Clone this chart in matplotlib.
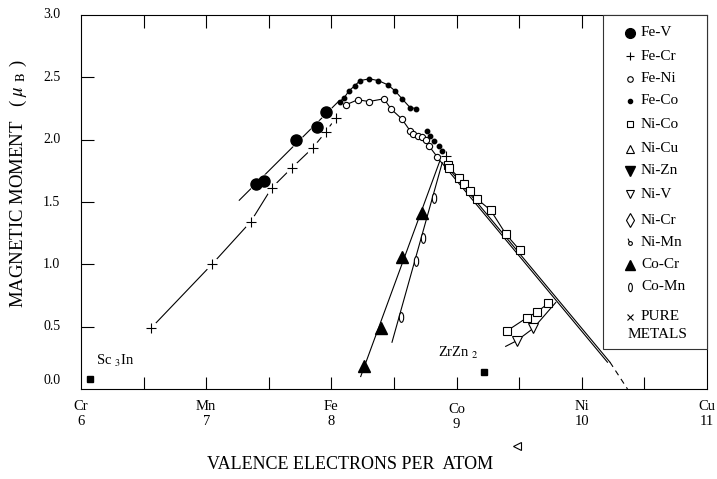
import matplotlib
matplotlib.use("Agg")
import matplotlib.pyplot as plt
import numpy as np
from matplotlib.path import Path
from matplotlib.patches import Rectangle

plt.rcParams['font.family'] = ['Liberation Serif', 'DejaVu Serif']
plt.rcParams['mathtext.fontset'] = 'stix'

# ---- data ----
fe_v_x = [7.394, 7.458, 7.717, 7.885, 7.955]
fe_v_y = [1.644, 1.668, 1.994, 2.098, 2.218]
fe_v_fit_x = [7.264, 8.06]
fe_v_fit_y = [1.514, 2.31]

fe_cr_x = [6.559, 7.046, 7.355, 7.523, 7.683, 7.850, 7.954, 8.034]
fe_cr_y = [0.488, 1.0, 1.341, 1.613, 1.773, 1.933, 2.061, 2.173]
fe_cr_extra_x = [8.915]
fe_cr_extra_y = [1.867]

fe_co_x = [8.069, 8.103, 8.141, 8.188, 8.229, 8.303, 8.375, 8.450, 8.508, 8.566, 8.628, 8.673]
fe_co_y = [2.306, 2.338, 2.392, 2.434, 2.474, 2.488, 2.474, 2.44, 2.392, 2.326, 2.258, 2.25]
fe_co2_x = [8.761, 8.788, 8.822, 8.859, 8.881]
fe_co2_y = [2.072, 2.032, 1.986, 1.946, 1.906]

fe_ni_x = [8.117, 8.210, 8.300, 8.420, 8.476, 8.561, 8.628, 8.654, 8.689, 8.721, 8.753, 8.782, 8.846]
fe_ni_y = [2.28, 2.32, 2.306, 2.328, 2.246, 2.168, 2.072, 2.048, 2.032, 2.022, 1.994, 1.946, 1.861]

ni_co_x = [8.934, 8.942, 9.019, 9.062, 9.107, 9.161, 9.272, 9.395, 9.506]
ni_co_y = [1.80, 1.774, 1.694, 1.648, 1.586, 1.526, 1.434, 1.24, 1.112]
ni_co_low_x = [9.405, 9.562, 9.645, 9.732]
ni_co_low_y = [0.468, 0.572, 0.62, 0.687]

ni_v_x = [9.48, 9.613]
ni_v_y = [0.387, 0.487]
ni_v_line_x = [9.392, 9.48, 9.613, 9.792]
ni_v_line_y = [0.342, 0.387, 0.487, 0.694]

co_cr_x = [8.260, 8.394, 8.566, 8.721]
co_cr_y = [0.184, 0.49, 1.06, 1.41]
co_cr_fit_x = [8.234, 8.867]
co_cr_fit_y = [0.10, 1.832]

co_mn_x = [8.553, 8.673, 8.728, 8.82]
co_mn_y = [0.58, 1.03, 1.21, 1.53]
co_mn_fit_x = [8.484, 8.89]
co_mn_fit_y = [0.375, 1.832]

main1_x = [8.867, 10.205]
main1_y = [1.832, 0.215]
main2_x = [8.885, 10.225]
main2_y = [1.832, 0.215]
main_ext_x = [10.225, 10.365]
main_ext_y = [0.215, 0.0]

sc3in_x, sc3in_y = [6.07], [0.08]
zrzn2_x, zrzn2_y = [9.219], [0.137]
stray_x, stray_y = [9.483], [-0.46]

elements = ["Cr", "Mn", "Fe", "Co", "Ni", "Cu"]
electrons = [6, 7, 8, 9, 10, 11]
ytick_vals = [0.0, 0.5, 1.0, 1.5, 2.0, 2.5, 3.0]

legend_names = ["Fe-V", "Fe-Cr", "Fe-Ni", "Fe-Co", "Ni-Co", "Ni-Cu", "Ni-Zn",
                "Ni-V", "Ni-Cr", "Ni-Mn", "Co-Cr", "Co-Mn", "PURE"]

# custom markers
circ = Path.unit_circle()
ellipse = Path(circ.vertices * [0.45, 1.0], circ.codes)
tail = Path([(-0.6, 0.8), (-1.3, 2.6)], [Path.MOVETO, Path.LINETO])
ni_mn_marker = Path.make_compound_path(circ, tail)

fig = plt.figure(figsize=(7.17, 4.79), dpi=100)
ax = fig.add_axes([81 / 717, 1 - 389 / 479, 626 / 717, 374 / 479])
ax.set_xlim(6, 11)
ax.set_ylim(0, 3)

lw = 0.8
k = "black"

# lines
ax.plot(fe_v_fit_x, fe_v_fit_y, color=k, lw=lw, zorder=2)
ax.plot(fe_cr_x, fe_cr_y, color=k, lw=lw, zorder=2)
ax.plot(fe_co_x, fe_co_y, color=k, lw=lw, zorder=2)
ax.plot(fe_ni_x, fe_ni_y, color=k, lw=lw, zorder=2)
ax.plot(ni_co_x, ni_co_y, color=k, lw=lw, zorder=2)
ax.plot(ni_co_low_x, ni_co_low_y, color=k, lw=lw, zorder=2)
ax.plot(ni_v_line_x, ni_v_line_y, color=k, lw=lw, zorder=2)
ax.plot(co_cr_fit_x, co_cr_fit_y, color=k, lw=lw, zorder=2)
ax.plot(co_mn_fit_x, co_mn_fit_y, color=k, lw=lw, zorder=2)
ax.plot(main1_x, main1_y, color=k, lw=lw, zorder=2)
ax.plot(main2_x, main2_y, color=k, lw=lw, zorder=2)
ax.plot(main_ext_x, main_ext_y, color=k, lw=lw, ls=(0, (5, 4)), zorder=2)

# white gaps behind markers
for gx, gy in [(fe_cr_x, fe_cr_y), (fe_v_x, fe_v_y), (fe_cr_extra_x, fe_cr_extra_y)]:
    ax.plot(gx, gy, 'o', ms=9, color="white", zorder=2.5)

# markers
ax.plot(fe_v_x, fe_v_y, 'o', ms=8, color=k, zorder=3)
ax.plot(fe_cr_x, fe_cr_y, '+', ms=7, mew=0.8, color=k, zorder=3)
ax.plot(fe_cr_extra_x, fe_cr_extra_y, '+', ms=7, mew=0.8, color=k, zorder=3)
ax.plot(fe_co_x, fe_co_y, 'o', ms=3.2, color=k, zorder=3)
ax.plot(fe_co2_x, fe_co2_y, 'o', ms=3.2, color=k, zorder=3)
ax.plot(fe_ni_x, fe_ni_y, 'o', ms=4.5, mfc="white", mec=k, mew=0.8, zorder=3)
ax.plot(ni_co_x, ni_co_y, 's', ms=5.5, mfc="white", mec=k, mew=0.8, zorder=3)
ax.plot(ni_co_low_x, ni_co_low_y, 's', ms=5.5, mfc="white", mec=k, mew=0.8, zorder=3)
ax.plot(ni_v_x, ni_v_y, 'v', ms=7, mfc="white", mec=k, mew=0.8, zorder=3)
ax.plot(co_cr_x, co_cr_y, '^', ms=8, color=k, zorder=3)
ax.plot(co_mn_x, co_mn_y, marker=ellipse, ls='none', ms=7, mfc="white", mec=k, mew=0.8, zorder=3)
ax.plot(sc3in_x, sc3in_y, 's', ms=5, color=k, zorder=3)
ax.plot(zrzn2_x, zrzn2_y, 's', ms=5, color=k, zorder=3)
ax.plot(stray_x, stray_y, '<', ms=6, mfc="white", mec=k, mew=0.8, clip_on=False)

ax.text(6.12, 0.225, "Sc $_3$In", fontsize=10.5, va="center", ha="left")
ax.text(8.85, 0.29, "ZrZn $_2$", fontsize=10.5, va="center", ha="left")

# axes frame and ticks
for s in ax.spines.values():
    s.set_linewidth(0.8)
ax.set_xticks(np.arange(6.5, 11, 0.5))
ax.set_yticks([0.5, 1.0, 1.5, 2.0, 2.5])
ax.tick_params(direction="in", length=9, width=0.8, top=True, right=False,
               labelbottom=False, labelleft=False)

for v in ytick_vals:
    yy = v + 0.065 if v == 0.0 else v
    ax.text(-0.033, yy, f"{v:.1f}", transform=ax.get_yaxis_transform(),
            ha="right", va="center", fontsize=10)

for name, n in zip(elements, electrons):
    dy = -0.008 if name == "Co" else 0.0
    ax.text(n, -0.048 + dy, name, transform=ax.get_xaxis_transform(),
            ha="center", va="center", fontsize=10.5, clip_on=False)
    ax.text(n, -0.088 + dy, str(n), transform=ax.get_xaxis_transform(),
            ha="center", va="center", fontsize=10.5, clip_on=False)

ax.text(0.43, -0.203, "VALENCE ELECTRONS PER  ATOM", transform=ax.transAxes,
        ha="center", va="center", fontsize=13)
ax.text(-0.1, 0.548, r"MAGNETIC MOMENT   ( $\mu$ $_{\mathrm{B}}$ )", transform=ax.transAxes,
        ha="center", va="center", rotation=90, fontsize=13.5)

# legend box drawn by hand
lx0 = (603 - 81) / 626
ly0 = (389 - 349) / 374
ax.add_patch(Rectangle((lx0, ly0), 1 - lx0, 1 - ly0, transform=ax.transAxes,
                       facecolor="white", edgecolor="#333333", lw=0.8, zorder=5,
                       clip_on=False))
leg_py = [33, 56, 79, 101, 124, 149, 171, 194, 220, 243, 265, 287, 317]
leg_style = [
    dict(marker='o', ms=7, color=k),
    dict(marker='+', ms=6, mew=0.8, color=k),
    dict(marker='o', ms=4, mfc="white", mec=k, mew=0.8),
    dict(marker='o', ms=3, color=k),
    dict(marker='s', ms=5, mfc="white", mec=k, mew=0.8),
    dict(marker='^', ms=6, mfc="white", mec=k, mew=0.8),
    dict(marker='v', ms=7, color=k),
    dict(marker='v', ms=6, mfc="white", mec=k, mew=0.8),
    dict(marker='d', ms=7, mfc="white", mec=k, mew=0.8),
    dict(marker=ni_mn_marker, ms=7, mfc="white", mec=k, mew=0.8),
    dict(marker='^', ms=7, color=k),
    dict(marker=ellipse, ms=6, mfc="white", mec=k, mew=0.8),
    dict(marker='x', ms=5, mew=0.8, color=k),
]
for name, py, st in zip(legend_names, leg_py, leg_style):
    yy = (389 - py) / 374
    ax.plot([(630 - 81) / 626], [yy], ls='none', transform=ax.transAxes,
            clip_on=False, zorder=6, **st)
    ax.text((641 - 81) / 626, yy, name, transform=ax.transAxes, ha="left",
            va="center", fontsize=11, zorder=6)
ax.text((628 - 81) / 626, (389 - 335) / 374, "METALS", transform=ax.transAxes,
        ha="left", va="center", fontsize=11, zorder=6)

fig.savefig("out.png", dpi=100)
